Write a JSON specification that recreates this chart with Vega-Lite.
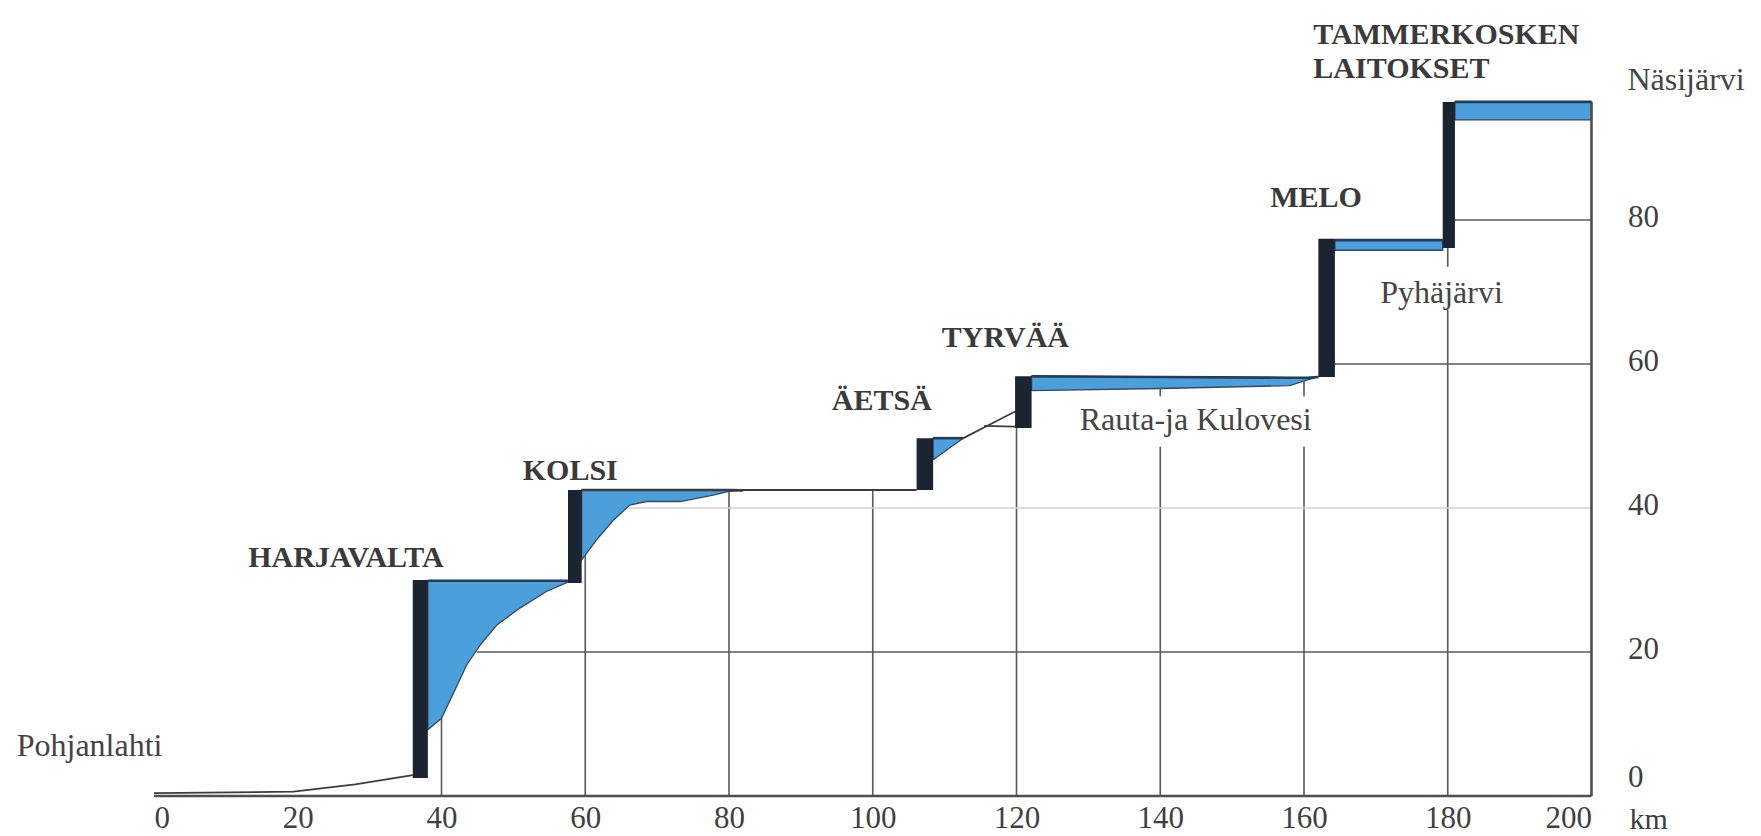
{
  "$schema": "https://vega.github.io/schema/vega-lite/v6.json",
  "width": 1437.5,
  "height": 720,
  "autosize": {"type": "none"},
  "padding": {"left": 154, "top": 76, "right": 169.5, "bottom": 40},
  "background": "white",
  "config": {
    "view": {"stroke": null},
    "axis": {"domain": false, "ticks": false, "grid": false, "title": null, "labelFont": "Liberation Serif", "labelFontSize": 31, "labelColor": "#3f3f3f"},
    "axisX": {"labelPadding": 22, "labelBaseline": "middle"},
    "axisY": {"labelPadding": 36, "labelAlign": "left"}
  },
  "datasets": {
    "grid": [
      {"kind": "line", "x1": 40, "x2": 40, "y1": 0, "y2": 10.8},
      {"kind": "line", "x1": 60, "x2": 60, "y1": 0, "y2": 33.5},
      {"kind": "line", "x1": 80, "x2": 80, "y1": 0, "y2": 42.3},
      {"kind": "line", "x1": 100, "x2": 100, "y1": 0, "y2": 42.5},
      {"kind": "line", "x1": 120, "x2": 120, "y1": 0, "y2": 51.1},
      {"kind": "line", "x1": 140, "x2": 140, "y1": 0, "y2": 48.5},
      {"kind": "line", "x1": 140, "x2": 140, "y1": 55.5, "y2": 56.6},
      {"kind": "line", "x1": 160, "x2": 160, "y1": 0, "y2": 48.5},
      {"kind": "line", "x1": 160, "x2": 160, "y1": 55.5, "y2": 57.8},
      {"kind": "line", "x1": 180, "x2": 180, "y1": 0, "y2": 67.5},
      {"kind": "line", "x1": 180, "x2": 180, "y1": 73.5, "y2": 76.1},
      {"kind": "frame", "x1": 200, "x2": 200, "y1": 0, "y2": 96.4},
      {"kind": "base", "x1": 0, "x2": 200, "y1": 0, "y2": 0},
      {"kind": "line", "x1": 44.9, "x2": 200, "y1": 20, "y2": 20},
      {"kind": "faint", "x1": 66, "x2": 200, "y1": 40, "y2": 40},
      {"kind": "line", "x1": 164.3, "x2": 200, "y1": 60, "y2": 60},
      {"kind": "line", "x1": 181, "x2": 200, "y1": 80, "y2": 80}
    ],
    "water": [
      {"seg": "Harjavalta", "km": 38.1, "hi": 29.9, "lo": 9.2},
      {"seg": "Harjavalta", "km": 40.0, "hi": 29.9, "lo": 10.8},
      {"seg": "Harjavalta", "km": 42.1, "hi": 29.9, "lo": 15.2},
      {"seg": "Harjavalta", "km": 43.5, "hi": 29.9, "lo": 18.2},
      {"seg": "Harjavalta", "km": 45.4, "hi": 29.9, "lo": 21.0},
      {"seg": "Harjavalta", "km": 47.7, "hi": 29.9, "lo": 23.75},
      {"seg": "Harjavalta", "km": 50.9, "hi": 29.9, "lo": 26.1},
      {"seg": "Harjavalta", "km": 54.6, "hi": 29.9, "lo": 28.4},
      {"seg": "Harjavalta", "km": 57.6, "hi": 29.9, "lo": 29.7},
      {"seg": "Kolsi", "km": 59.5, "hi": 42.5, "lo": 32.8},
      {"seg": "Kolsi", "km": 61.6, "hi": 42.5, "lo": 35.6},
      {"seg": "Kolsi", "km": 63.9, "hi": 42.5, "lo": 38.3},
      {"seg": "Kolsi", "km": 66.2, "hi": 42.5, "lo": 40.4},
      {"seg": "Kolsi", "km": 68.5, "hi": 42.5, "lo": 40.9},
      {"seg": "Kolsi", "km": 73.2, "hi": 42.5, "lo": 40.9},
      {"seg": "Kolsi", "km": 77.8, "hi": 42.5, "lo": 41.8},
      {"seg": "Kolsi", "km": 80.0, "hi": 42.5, "lo": 42.3},
      {"seg": "Kolsi", "km": 82.0, "hi": 42.45, "lo": 42.45},
      {"seg": "Äetsä", "km": 108.4, "hi": 49.7, "lo": 46.7},
      {"seg": "Äetsä", "km": 112.6, "hi": 49.7, "lo": 49.7},
      {"seg": "Tyrvää", "km": 122.1, "hi": 58.3, "lo": 56.3},
      {"seg": "Tyrvää", "km": 140.0, "hi": 58.2, "lo": 56.6},
      {"seg": "Tyrvää", "km": 158.0, "hi": 58.1, "lo": 57.0},
      {"seg": "Tyrvää", "km": 160.5, "hi": 58.1, "lo": 57.8},
      {"seg": "Tyrvää", "km": 162.0, "hi": 58.2, "lo": 58.2},
      {"seg": "Melo", "km": 164.3, "hi": 77.2, "lo": 75.8},
      {"seg": "Melo", "km": 179.3, "hi": 77.2, "lo": 75.8},
      {"seg": "Tammerkoski", "km": 181.0, "hi": 96.4, "lo": 93.9},
      {"seg": "Tammerkoski", "km": 200.0, "hi": 96.4, "lo": 93.9}
    ],
    "lines": [
      {"id": "sea", "km": 0, "v": 0.4},
      {"id": "sea", "km": 19.4, "v": 0.6},
      {"id": "sea", "km": 28, "v": 1.6},
      {"id": "sea", "km": 36, "v": 2.9},
      {"id": "kolsi", "km": 59.5, "v": 42.5},
      {"id": "kolsi", "km": 106.1, "v": 42.5},
      {"id": "rise", "km": 112.6, "v": 49.7},
      {"id": "rise", "km": 116.7, "v": 51.8},
      {"id": "rise", "km": 119.8, "v": 53.4},
      {"id": "wedge", "km": 115.5, "v": 51.4},
      {"id": "wedge", "km": 119.8, "v": 51.3}
    ],
    "plants": [
      {"name": "Harjavalta", "k0": 36.0, "k1": 38.1, "v0": 2.5, "v1": 30.0},
      {"name": "Kolsi", "k0": 57.6, "k1": 59.5, "v0": 29.6, "v1": 42.5},
      {"name": "Äetsä", "k0": 106.1, "k1": 108.4, "v0": 42.5, "v1": 49.7},
      {"name": "Tyrvää", "k0": 119.8, "k1": 122.1, "v0": 51.1, "v1": 58.3},
      {"name": "Melo", "k0": 162.0, "k1": 164.3, "v0": 58.2, "v1": 77.4},
      {"name": "Tammerkoski", "k0": 179.3, "k1": 181.0, "v0": 76.1, "v1": 96.4}
    ],
    "labels": [
      {"kind": "plant", "text": "HARJAVALTA", "km": 13.1, "v": 31.8},
      {"kind": "plant", "text": "KOLSI", "km": 51.3, "v": 43.9},
      {"kind": "plant", "text": "ÄETSÄ", "km": 94.3, "v": 53.6},
      {"kind": "plant", "text": "TYRVÄÄ", "km": 109.6, "v": 62.4},
      {"kind": "plant", "text": "MELO", "km": 155.3, "v": 81.8},
      {"kind": "plant", "text": "TAMMERKOSKEN", "km": 161.3, "v": 104.5},
      {"kind": "plant", "text": "LAITOKSET", "km": 161.3, "v": 99.7},
      {"kind": "lake", "text": "Pohjanlahti", "km": -19.1, "v": 5.5},
      {"kind": "lake", "text": "Rauta-ja Kulovesi", "km": 128.8, "v": 50.8},
      {"kind": "lake", "text": "Pyhäjärvi", "km": 170.6, "v": 68.5},
      {"kind": "lake", "text": "Näsijärvi", "km": 205, "v": 98},
      {"kind": "unit", "text": "km", "km": 205.3, "v": -3.4}
    ]
  },
  "layer": [
    {
      "data": {"name": "water"},
      "mark": {"type": "area", "fill": "#4b9fdb", "stroke": "#34495e", "strokeWidth": 1.3},
      "encoding": {
        "x": {"field": "km", "type": "quantitative", "scale": {"domain": [0, 200], "nice": false, "zero": false},
          "axis": {"orient": "bottom", "values": [0, 20, 40, 60, 80, 100, 120, 140, 160, 180, 200]}},
        "y": {"field": "hi", "type": "quantitative", "scale": {"domain": [0, 100], "nice": false, "zero": false},
          "axis": {"orient": "right", "values": [0, 20, 40, 60, 80], "labelOffset": -3,
            "labelBaseline": {"condition": {"test": "datum.value === 0", "value": "bottom"}, "value": "middle"}}},
        "y2": {"field": "lo"},
        "detail": {"field": "seg"}
      }
    },
    {
      "data": {"name": "grid"},
      "transform": [{"filter": "datum.kind === 'line'"}],
      "mark": {"type": "rule", "color": "#5a5a5a", "strokeWidth": 1.6},
      "encoding": {
        "x": {"field": "x1", "type": "quantitative"},
        "x2": {"field": "x2"},
        "y": {"field": "y1", "type": "quantitative"},
        "y2": {"field": "y2"}
      }
    },
    {
      "data": {"name": "grid"},
      "transform": [{"filter": "datum.kind === 'faint'"}],
      "mark": {"type": "rule", "color": "#d2d2d2", "strokeWidth": 1.5},
      "encoding": {
        "x": {"field": "x1", "type": "quantitative"},
        "x2": {"field": "x2"},
        "y": {"field": "y1", "type": "quantitative"},
        "y2": {"field": "y2"}
      }
    },
    {
      "data": {"name": "grid"},
      "transform": [{"filter": "datum.kind === 'frame' || datum.kind === 'base'"}],
      "mark": {"type": "rule", "color": "#4d4d4d", "strokeWidth": 2.6},
      "encoding": {
        "x": {"field": "x1", "type": "quantitative"},
        "x2": {"field": "x2"},
        "y": {"field": "y1", "type": "quantitative"},
        "y2": {"field": "y2"}
      }
    },
    {
      "data": {"name": "water"},
      "mark": {"type": "line", "color": "#263c55", "strokeWidth": 2.6},
      "encoding": {
        "x": {"field": "km", "type": "quantitative"},
        "y": {"field": "hi", "type": "quantitative"},
        "detail": {"field": "seg"}
      }
    },
    {
      "data": {"name": "lines"},
      "mark": {"type": "line", "color": "#3c3c3c", "strokeWidth": 1.8},
      "encoding": {
        "x": {"field": "km", "type": "quantitative"},
        "y": {"field": "v", "type": "quantitative"},
        "detail": {"field": "id"}
      }
    },
    {
      "data": {"name": "plants"},
      "mark": {"type": "rect", "fill": "#1b2531"},
      "encoding": {
        "x": {"field": "k0", "type": "quantitative"},
        "x2": {"field": "k1"},
        "y": {"field": "v0", "type": "quantitative"},
        "y2": {"field": "v1"}
      }
    },
    {
      "data": {"name": "labels"},
      "transform": [{"filter": "datum.kind === 'plant'"}],
      "mark": {"type": "text", "font": "Liberation Serif", "fontSize": 30, "fontWeight": "bold", "align": "left", "baseline": "alphabetic", "color": "#3a3a3a"},
      "encoding": {
        "x": {"field": "km", "type": "quantitative"},
        "y": {"field": "v", "type": "quantitative"},
        "text": {"field": "text"}
      }
    },
    {
      "data": {"name": "labels"},
      "transform": [{"filter": "datum.kind === 'lake'"}],
      "mark": {"type": "text", "font": "Liberation Serif", "fontSize": 32, "align": "left", "baseline": "alphabetic", "color": "#444444"},
      "encoding": {
        "x": {"field": "km", "type": "quantitative"},
        "y": {"field": "v", "type": "quantitative"},
        "text": {"field": "text"}
      }
    },
    {
      "data": {"name": "labels"},
      "transform": [{"filter": "datum.kind === 'unit'"}],
      "mark": {"type": "text", "font": "Liberation Serif", "fontSize": 30, "align": "left", "baseline": "middle", "color": "#3f3f3f"},
      "encoding": {
        "x": {"field": "km", "type": "quantitative"},
        "y": {"field": "v", "type": "quantitative"},
        "text": {"field": "text"}
      }
    }
  ]
}
